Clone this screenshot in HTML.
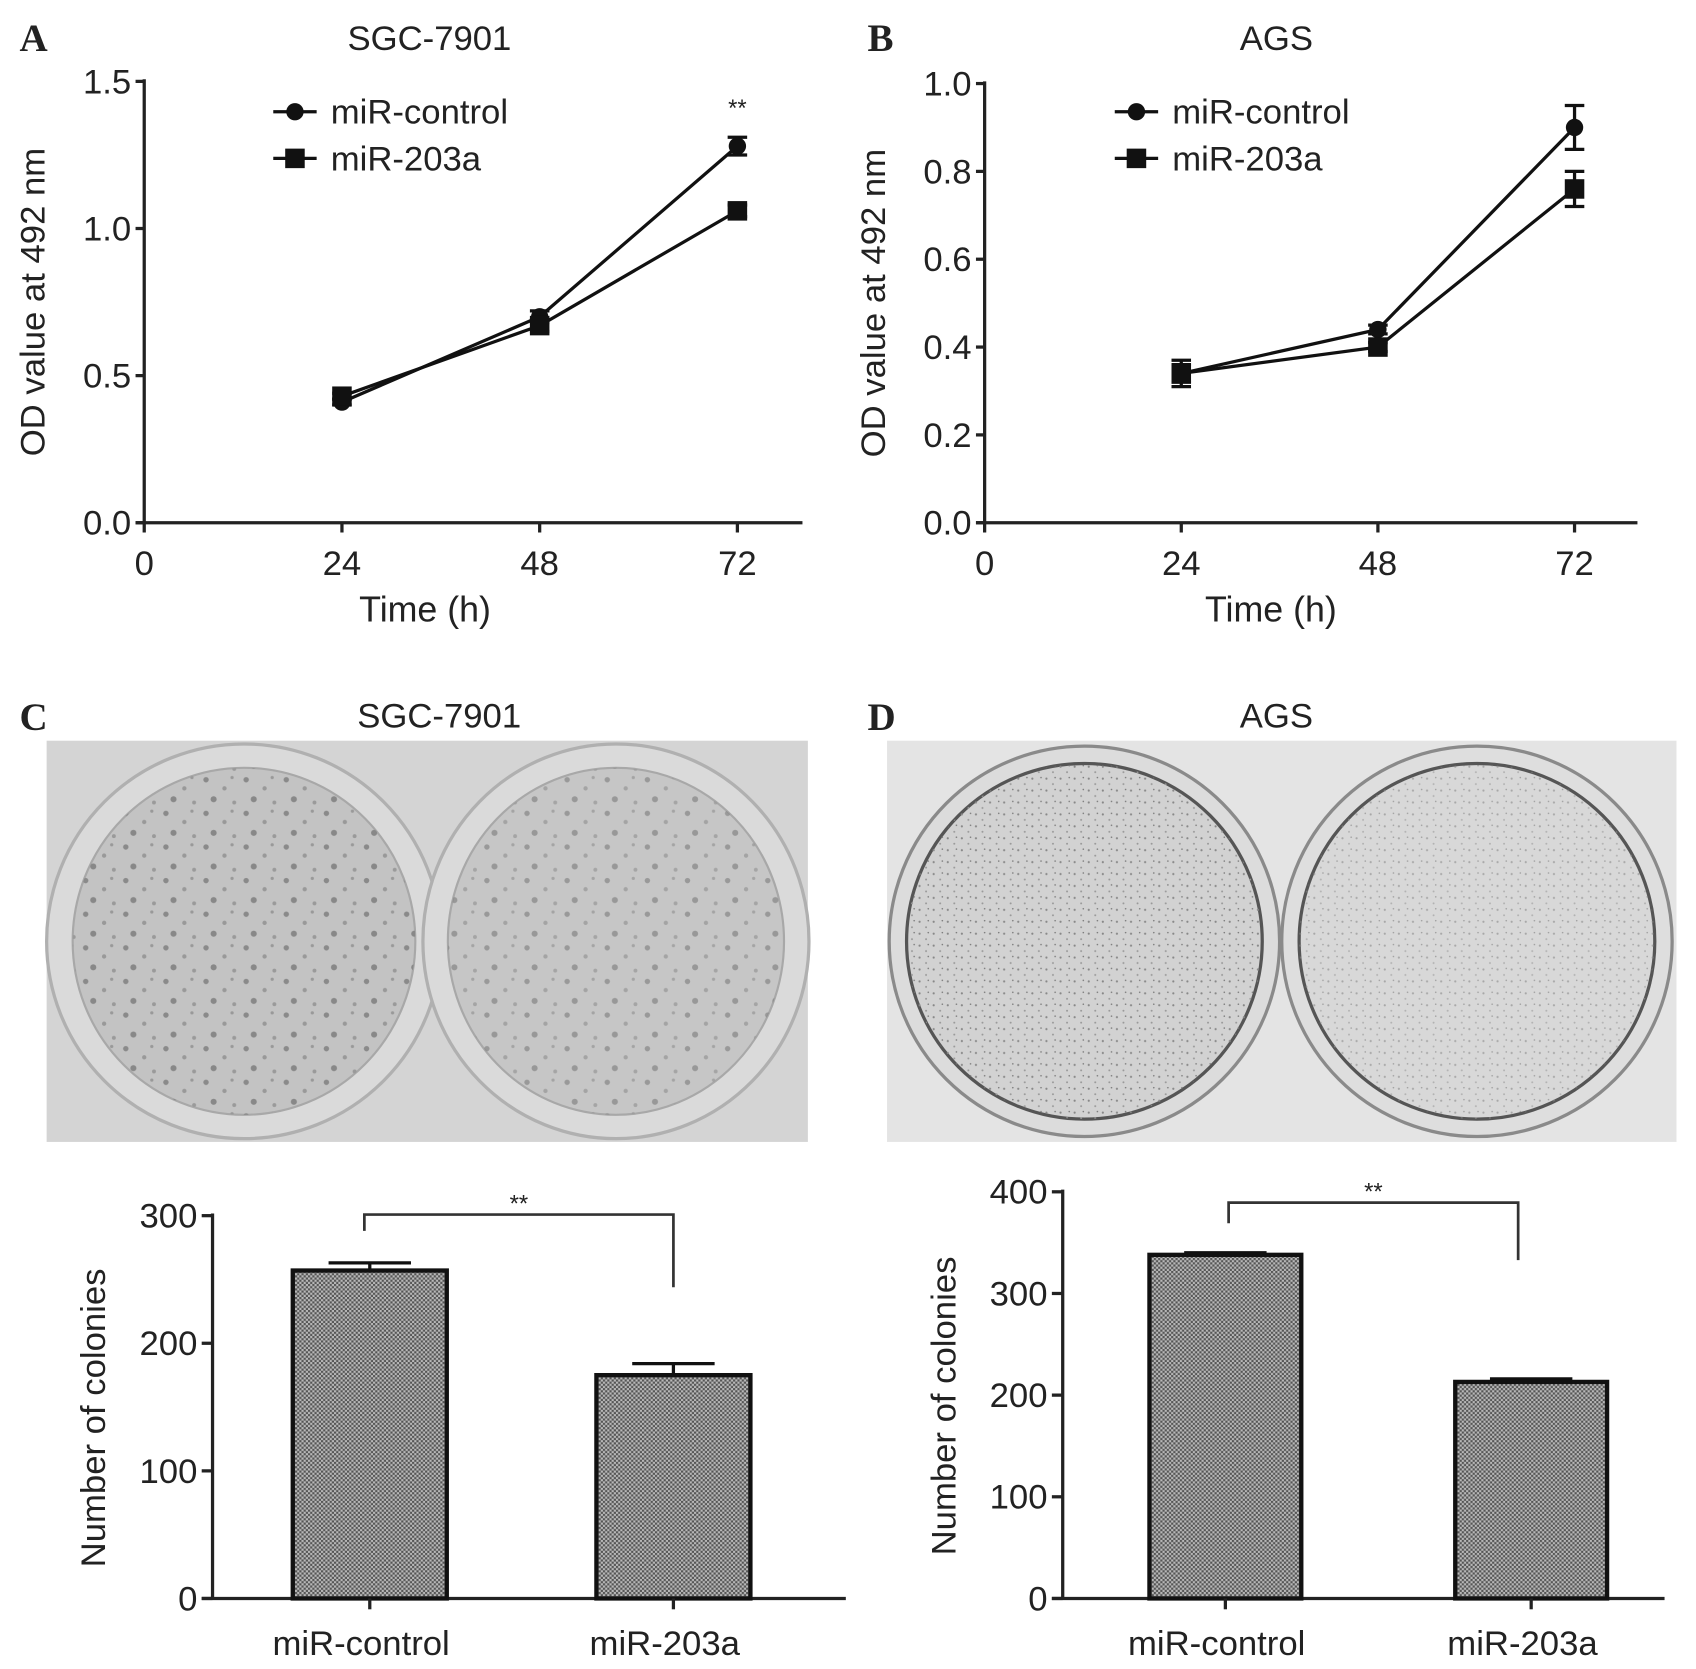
<!DOCTYPE html>
<html><head><meta charset="utf-8"><style>
html,body{margin:0;padding:0;background:#fff;}
svg{display:block;}
text{font-family:"Liberation Sans",sans-serif;fill:#222;}
</style></head><body>
<svg id="fig" width="1696" height="1669" viewBox="0 0 1564 1539" xmlns="http://www.w3.org/2000/svg">
<defs>
<pattern id="hatch" width="4" height="4" patternUnits="userSpaceOnUse">
<rect width="4" height="4" fill="#b8b8b8"/><rect width="2" height="2" fill="#555"/><rect x="2" y="2" width="2" height="2" fill="#555"/>
</pattern>
<pattern id="specC" width="37" height="31" patternUnits="userSpaceOnUse">
<circle cx="5" cy="6" r="2.5" fill="#8a8a8a"/><circle cx="22" cy="14" r="2" fill="#999"/><circle cx="12" cy="24" r="2.8" fill="#888"/><circle cx="31" cy="27" r="1.8" fill="#9a9a9a"/><circle cx="29" cy="4" r="1.5" fill="#999"/>
</pattern>
<pattern id="specD" width="13" height="11" patternUnits="userSpaceOnUse">
<circle cx="3" cy="3" r="1" fill="#888"/><circle cx="9" cy="8" r="0.9" fill="#999"/><circle cx="11" cy="2" r="0.7" fill="#777"/>
</pattern>
</defs>

<text x="18" y="47" style="font-family:'Liberation Serif',serif;font-weight:bold;font-size:36px">A</text>
<text x="396" y="46" text-anchor="middle" font-size="32">SGC-7901</text>
<text x="800" y="47" style="font-family:'Liberation Serif',serif;font-weight:bold;font-size:36px">B</text>
<text x="1177" y="46" text-anchor="middle" font-size="32">AGS</text>
<text x="18" y="673" style="font-family:'Liberation Serif',serif;font-weight:bold;font-size:36px">C</text>
<text x="405" y="671" text-anchor="middle" font-size="32">SGC-7901</text>
<text x="800" y="673" style="font-family:'Liberation Serif',serif;font-weight:bold;font-size:36px">D</text>
<text x="1177" y="671" text-anchor="middle" font-size="32">AGS</text>

<g>
<rect x="43" y="683" width="702" height="370" fill="#d4d4d4"/>
<ellipse cx="225" cy="868" rx="182" ry="182" fill="#dadada" stroke="#b0b0b0" stroke-width="3"/>
<ellipse cx="225" cy="868" rx="158" ry="160" fill="#c3c3c3" stroke="#a8a8a8" stroke-width="2"/>
<ellipse cx="225" cy="868" rx="158" ry="160" fill="url(#specC)"/>
<ellipse cx="568" cy="868" rx="178" ry="182" fill="#dadada" stroke="#b0b0b0" stroke-width="3"/>
<ellipse cx="568" cy="868" rx="155" ry="160" fill="#c6c6c6" stroke="#a8a8a8" stroke-width="2"/>
<ellipse cx="568" cy="868" rx="155" ry="160" fill="url(#specC)" opacity="0.75"/>
</g>
<g>
<rect x="818" y="683" width="728" height="370" fill="#e4e4e4"/>
<circle cx="1000" cy="868" r="180" fill="#dcdcdc" stroke="#8a8a8a" stroke-width="3"/>
<circle cx="1000" cy="868" r="164" fill="#d2d2d2" stroke="#555" stroke-width="3"/>
<circle cx="1000" cy="868" r="164" fill="url(#specD)"/>
<circle cx="1362" cy="868" r="180" fill="#dedede" stroke="#8a8a8a" stroke-width="3"/>
<circle cx="1362" cy="868" r="164" fill="#d8d8d8" stroke="#555" stroke-width="3"/>
<circle cx="1362" cy="868" r="164" fill="url(#specD)" opacity="0.6"/>
</g>

<g id="chartA"></g>
<g id="chartB"></g>
<g id="chartC"></g>
<g id="chartD"></g>
</svg>
<script>
const timePoints = [24, 48, 72];
const xTickLabels = ["0", "24", "48", "72"];
const aControl = [0.41, 0.70, 1.28];
const aControlErr = [0.01, 0.02, 0.03];
const a203a = [0.43, 0.67, 1.06];
const a203aErr = [0.01, 0.02, 0.02];
const aYTicks = ["0.0", "0.5", "1.0", "1.5"];
const bControl = [0.34, 0.44, 0.90];
const bControlErr = [0.02, 0.01, 0.05];
const b203a = [0.34, 0.40, 0.76];
const b203aErr = [0.03, 0.01, 0.04];
const bYTicks = ["0.0", "0.2", "0.4", "0.6", "0.8", "1.0"];
const barCategories = ["miR-control", "miR-203a"];
const cValues = [257, 175];
const cErr = [6, 9];
const cYTicks = ["0", "100", "200", "300"];
const dValues = [338, 213];
const dErr = [2, 3];
const dYTicks = ["0", "100", "200", "300", "400"];

const NS = "http://www.w3.org/2000/svg";
function mk(parent, tag, attrs, txt) {
  const e = document.createElementNS(NS, tag);
  for (const k in attrs) e.setAttribute(k, attrs[k]);
  if (txt !== undefined) e.textContent = txt;
  parent.appendChild(e);
  return e;
}

function lineChart(g, o) {
  const xs = v => o.x0 + (v / 72) * (o.x72 - o.x0);
  const ys = v => o.yBot - (v / o.yMax) * (o.yBot - o.yTop);
  let e = mk(g, "line", {x1:o.x0, y1:o.yTop-2, x2:o.x0, y2:o.yBot, stroke:"#222", "stroke-width":3});
  
  
  e = mk(g, "line", {x1:o.x0-8, y1:o.yBot, x2:o.xEnd, y2:o.yBot, stroke:"#222", "stroke-width":3});
  
  
  o.yTicks.forEach((t) => {
    const y = ys(parseFloat(t));
    mk(g, "line", {x1:o.x0-8, y1:y, x2:o.x0, y2:y, stroke:"#222", "stroke-width":3});
    e = mk(g, "text", {x:o.x0-12, y:y+11, "text-anchor":"end", "font-size":32}, t);
    
    
  });
  xTickLabels.forEach((t) => {
    const x = xs(parseFloat(t));
    mk(g, "line", {x1:x, y1:o.yBot, x2:x, y2:o.yBot+9, stroke:"#222", "stroke-width":3});
    e = mk(g, "text", {x:x, y:o.yBot+48, "text-anchor":"middle", "font-size":32}, t);
    
    
  });
  e = mk(g, "text", {x:o.titleX, y:o.yBot+91, "text-anchor":"middle", "font-size":33}, "Time (h)");
  
  
  e = mk(g, "text", {x:0, y:0, "text-anchor":"middle", "font-size":32, transform:`translate(${o.x0-92},${(o.yTop+o.yBot)/2}) rotate(-90)`}, "OD value at 492 nm");
  
  
  const series = [[o.ctrl, o.ctrlErr, "circle", "series-mir-control"], [o.s203, o.s203Err, "square", "series-mir-203a"]];
  series.forEach(([vals, errs, shape, name]) => {
    const sg = mk(g, "g", {});
    
    
    const pts = timePoints.map((t, i) => xs(t) + "," + ys(vals[i])).join(" ");
    mk(sg, "polyline", {points:pts, fill:"none", stroke:"#111", "stroke-width":3});
    timePoints.forEach((t, i) => {
      const x = xs(t), y = ys(vals[i]), ey1 = ys(vals[i] + errs[i]), ey2 = ys(vals[i] - errs[i]);
      mk(sg, "line", {x1:x, y1:ey1, x2:x, y2:ey2, stroke:"#111", "stroke-width":3});
      mk(sg, "line", {x1:x-9, y1:ey1, x2:x+9, y2:ey1, stroke:"#111", "stroke-width":3});
      mk(sg, "line", {x1:x-9, y1:ey2, x2:x+9, y2:ey2, stroke:"#111", "stroke-width":3});
      let m;
      if (shape === "circle") m = mk(sg, "circle", {cx:x, cy:y, r:8, fill:"#111"});
      else m = mk(sg, "rect", {x:x-9, y:y-9, width:18, height:18, fill:"#111"});
      
      
    });
  });
  const lg = mk(g, "g", {});
  
  
  [["miR-control","circle",o.legY],["miR-203a","square",o.legY+43]].forEach(([lab, shape, y]) => {
    const en = mk(lg, "g", {});
    
    
    mk(en, "line", {x1:o.legX, y1:y, x2:o.legX+40, y2:y, stroke:"#111", "stroke-width":3});
    if (shape === "circle") mk(en, "circle", {cx:o.legX+20, cy:y, r:8, fill:"#111"});
    else mk(en, "rect", {x:o.legX+11, y:y-9, width:18, height:18, fill:"#111"});
    mk(en, "text", {x:o.legX+53, y:y+11, "font-size":32}, lab);
  });
  if (o.star) {
    e = mk(g, "text", {x:xs(72), y:o.starY, "text-anchor":"middle", "font-size":22, fill:"#444"}, "**");
    
    
  }
}

lineChart(document.getElementById("chartA"), {x0:133, x72:680, xEnd:740, yTop:75, yBot:482, yMax:1.5, titleX:392,
  yTicks:aYTicks, ctrl:aControl, ctrlErr:aControlErr, s203:a203a, s203Err:a203aErr, legX:252, legY:103, star:true, starY:107});
lineChart(document.getElementById("chartB"), {x0:908, x72:1452, xEnd:1510, yTop:77, yBot:482, yMax:1.0, titleX:1172,
  yTicks:bYTicks, ctrl:bControl, ctrlErr:bControlErr, s203:b203a, s203Err:b203aErr, legX:1028, legY:103, star:false});

function barChart(g, o) {
  const ys = v => o.yBot - (v / o.yMax) * (o.yBot - o.yTop);
  let e = mk(g, "line", {x1:o.x0, y1:o.yTop-2, x2:o.x0, y2:o.yBot, stroke:"#222", "stroke-width":3});
  
  
  e = mk(g, "line", {x1:o.x0-10, y1:o.yBot, x2:o.xEnd, y2:o.yBot, stroke:"#222", "stroke-width":3});
  
  
  o.yTicks.forEach(t => {
    const y = ys(parseFloat(t));
    mk(g, "line", {x1:o.x0-10, y1:y, x2:o.x0, y2:y, stroke:"#222", "stroke-width":3});
    e = mk(g, "text", {x:o.x0-14, y:y+11, "text-anchor":"end", "font-size":32}, t);
    
    
  });
  e = mk(g, "text", {x:0, y:0, "text-anchor":"middle", "font-size":32, transform:`translate(${o.x0-99},${(o.yTop+o.yBot)/2+10}) rotate(-90)`}, "Number of colonies");
  
  
  barCategories.forEach((c, i) => {
    const cx = o.cx[i];
    const bg = mk(g, "g", {});
    
    
    const y = ys(o.vals[i]), ye = ys(o.vals[i] + o.errs[i]);
    mk(bg, "line", {x1:cx, y1:y, x2:cx, y2:ye, stroke:"#111", "stroke-width":3});
    mk(bg, "line", {x1:cx-38, y1:ye, x2:cx+38, y2:ye, stroke:"#111", "stroke-width":3});
    mk(bg, "rect", {x:cx-o.bw/2, y:y, width:o.bw, height:o.yBot-y, fill:"url(#hatch)", stroke:"#111", "stroke-width":4});
    mk(g, "line", {x1:cx, y1:o.yBot, x2:cx, y2:o.yBot+10, stroke:"#222", "stroke-width":3});
    e = mk(g, "text", {x:cx-8, y:o.yBot+52, "text-anchor":"middle", "font-size":32}, c);
    
    
  });
  const br = mk(g, "polyline", {points:`${o.brL},${o.brLy} ${o.brL},${o.brY} ${o.brR},${o.brY} ${o.brR},${o.brRy}`, fill:"none", stroke:"#333", "stroke-width":2.5});
  
  
  e = mk(g, "text", {x:(o.brL+o.brR)/2, y:o.brY-3, "text-anchor":"middle", "font-size":22, fill:"#444"}, "**");
  
  
}

barChart(document.getElementById("chartC"), {x0:196, xEnd:780, yTop:1121, yBot:1474, yMax:300, yTicks:cYTicks,
  vals:cValues, errs:cErr, cx:[341, 621], bw:142, brL:336, brR:621, brY:1120, brLy:1135, brRy:1187});
barChart(document.getElementById("chartD"), {x0:980, xEnd:1535, yTop:1099, yBot:1474, yMax:400, yTicks:dYTicks,
  vals:dValues, errs:dErr, cx:[1130, 1412], bw:140, brL:1133, brR:1400, brY:1109, brLy:1128, brRy:1162});
</script>
</body></html>
